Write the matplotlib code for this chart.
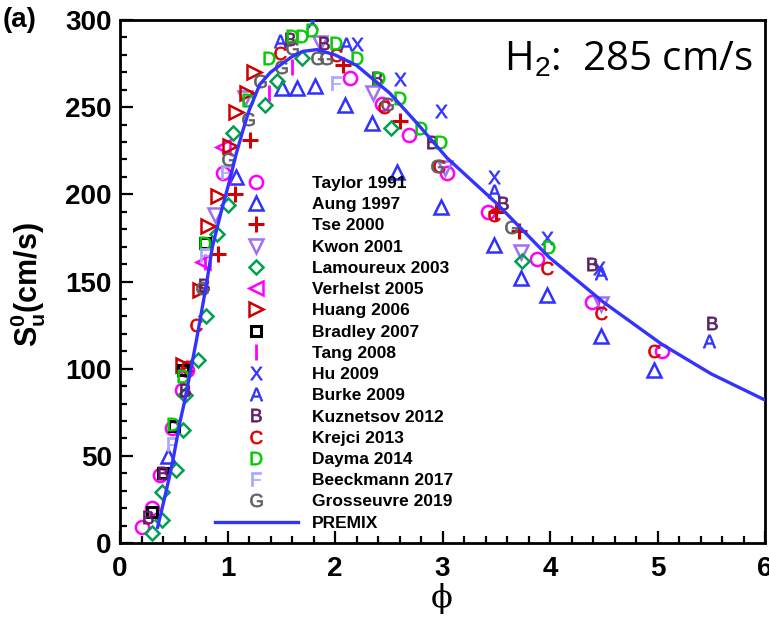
import matplotlib
matplotlib.use("Agg")
import matplotlib.pyplot as plt
from matplotlib.ticker import MultipleLocator

plt.rcParams['font.family'] = ['Liberation Sans', 'DejaVu Sans']
plt.rcParams['mathtext.fontset'] = 'custom'
plt.rcParams['mathtext.rm'] = 'Liberation Sans'
plt.rcParams['mathtext.sf'] = 'Liberation Sans'
plt.rcParams['mathtext.it'] = 'Liberation Sans:italic'
plt.rcParams['mathtext.bf'] = 'Liberation Sans:bold'

# ---------------- data (phi, S_u^0 in cm/s) ----------------
taylor_phi = [0.2, 0.3, 0.37, 0.48, 0.58, 0.62, 0.96, 2.14, 2.44, 2.69, 3.04, 3.42, 3.88, 4.39, 5.04]
taylor_s = [9, 20, 39, 66, 88, 99, 212, 267, 252, 234, 212, 190, 163, 138, 110]

aung_phi = [0.45, 1.08, 1.51, 1.65, 1.81, 2.09, 2.34, 2.58, 2.99, 3.48, 3.73, 3.97, 4.47, 4.97]
aung_s = [50, 210, 261, 261, 262, 251, 241, 213, 193, 171, 152, 142, 119, 99]

tse_phi = [0.91, 1.07, 1.21, 2.07, 2.6, 3.5, 3.71]
tse_s = [166, 200, 231, 274, 242, 190, 179]

kwon_phi = [0.88, 1.16, 1.86, 2.35, 3.02, 3.73, 4.47]
kwon_s = [188, 255, 287, 258, 215, 167, 137]

lam_phi = [0.30, 0.39, 0.39, 0.52, 0.59, 0.60, 0.73, 0.80, 0.90, 1.00, 1.05, 1.35, 1.46, 1.69, 2.52, 3.74]
lam_s = [6, 13, 29, 42, 65, 85, 105, 130, 177, 194, 235, 251, 265, 278, 238, 162]

verh_phi = [0.77, 0.96]
verh_s = [161, 227]

huang_phi = [0.59, 0.74, 0.82, 0.91, 1.02, 1.08, 1.18, 1.25]
huang_s = [102, 145, 182, 199, 228, 247, 258, 270]

bradley_phi = [0.30, 0.40, 0.50, 0.59, 0.79]
bradley_s = [18, 40, 67, 99, 172]

tang_phi = [0.79, 1.02, 1.39, 1.60]
tang_s = [161, 210, 258, 273]

hu_phi = [1.79, 2.20, 2.60, 2.99, 3.48, 3.97, 4.46]
hu_s = [299, 286, 266, 248, 210, 175, 158]

burke_phi = [1.49, 2.10, 3.48, 4.47, 5.48]
burke_s = [288, 286, 202, 155, 116]

kuz_phi = [0.26, 0.40, 0.60, 0.78, 1.58, 1.90, 2.39, 2.90, 3.56, 4.39, 5.51]
kuz_s = [15, 40, 88, 148, 289, 287, 267, 230, 195, 160, 126]

krejci_phi = [0.62, 0.71, 1.49, 2.01, 2.46, 2.97, 3.48, 3.97, 4.47, 4.97]
krejci_s = [101, 125, 281, 280, 250, 216, 188, 158, 132, 110]

dayma_phi = [0.49, 0.59, 0.79, 1.19, 1.39, 1.60, 1.69, 1.79, 2.01, 2.20, 2.41, 2.60, 2.80, 2.99, 3.99]
dayma_s = [68, 96, 172, 254, 278, 291, 291, 294, 287, 278, 267, 255, 238, 230, 170]

beeck_phi = [0.48, 0.79, 0.99, 2.01]
beeck_s = [57, 165, 213, 264]

gros_phi = [0.76, 1.00, 1.19, 1.30, 1.50, 1.60, 1.83, 1.92, 2.48, 2.95, 3.64]
gros_s = [146, 220, 243, 265, 273, 284, 278, 278, 252, 216, 181]

premix_phi = [0.35, 0.40, 0.46, 0.50, 0.56, 0.60, 0.66, 0.71, 0.80, 0.86, 0.90, 0.95, 1.02,
              1.08, 1.14, 1.20, 1.30, 1.40, 1.51, 1.60, 1.70, 1.83, 2.00, 2.20, 2.51, 2.76,
              3.04, 3.50, 3.99, 4.50, 5.04, 5.50, 6.00]
premix_s = [9, 22, 38, 50, 70, 81, 100, 116, 147, 170, 180, 192, 208,
            223, 236, 248, 263, 270, 275, 279, 282, 283, 280, 274, 258, 241,
            221, 195, 164, 138, 114, 97, 82]

xticks = [0, 1, 2, 3, 4, 5, 6]
yticks = [0, 50, 100, 150, 200, 250, 300]

# ---------------- figure ----------------
fig = plt.figure(figsize=(7.69, 6.18), dpi=100)
ax = fig.add_axes([120/769, 1-543/618, 645/769, 523/618])

ms = 9.5
mew = 1.8
series = [
    (taylor_phi, taylor_s, 'Taylor 1991', dict(marker='o', color='#ff00ff', mfc='none')),
    (aung_phi, aung_s, 'Aung 1997', dict(marker='^', color='#3030ff', mfc='none')),
    (tse_phi, tse_s, 'Tse 2000', dict(marker='+', color='#d00000', ms=11, mew=2.2)),
    (kwon_phi, kwon_s, 'Kwon 2001', dict(marker='v', color='#a070f0', mfc='none')),
    (lam_phi, lam_s, 'Lamoureux 2003', dict(marker='D', color='#00a050', mfc='none', ms=7.5)),
    (verh_phi, verh_s, 'Verhelst 2005', dict(marker='<', color='#ff00ff', mfc='none')),
    (huang_phi, huang_s, 'Huang 2006', dict(marker='>', color='#cc0000', mfc='none')),
    (bradley_phi, bradley_s, 'Bradley 2007', dict(marker='s', color='black', mfc='none', ms=7.5, mew=2.2)),
    (tang_phi, tang_s, 'Tang 2008', dict(marker='|', color='#ff00ff', ms=12, mew=2.0)),
    (hu_phi, hu_s, 'Hu 2009', dict(marker=r'$\mathsf{X}$', color='#3333ff', mew=0.5)),
    (burke_phi, burke_s, 'Burke 2009', dict(marker=r'$\mathsf{A}$', color='#3333ff', mew=0.5)),
    (kuz_phi, kuz_s, 'Kuznetsov 2012', dict(marker=r'$\mathsf{B}$', color='#602060', mew=0.5)),
    (krejci_phi, krejci_s, 'Krejci 2013', dict(marker=r'$\mathsf{C}$', color='#dd0000', mew=0.5)),
    (dayma_phi, dayma_s, 'Dayma 2014', dict(marker=r'$\mathsf{D}$', color='#00cc00', mew=0.5)),
    (beeck_phi, beeck_s, 'Beeckmann 2017', dict(marker=r'$\mathsf{F}$', color='#a8a8ff', mew=0.5)),
    (gros_phi, gros_s, 'Grosseuvre 2019', dict(marker=r'$\mathsf{G}$', color='#606060', mew=0.5)),
]

handles = []
for x, y, lab, st in series:
    kw = dict(ms=ms, mew=mew, ls='none')
    kw.update(st)
    h, = ax.plot(x, y, label=lab, zorder=3, **kw)
    handles.append(h)

line, = ax.plot(premix_phi, premix_s, color='#3333ff', lw=2.4, label='PREMIX', zorder=4)
handles.append(line)

ax.set_xlim(0, 6)
ax.set_ylim(0, 300)
ax.set_xticks(xticks)
ax.set_yticks(yticks)
ax.xaxis.set_minor_locator(MultipleLocator(0.2))
ax.yaxis.set_minor_locator(MultipleLocator(10))
ax.tick_params(which='both', direction='in', top=False, right=False, width=1.6)
ax.tick_params(which='major', length=9)
ax.tick_params(which='minor', length=5)
ax.tick_params(axis='x', pad=9)
ax.tick_params(axis='y', pad=6)
for lab in ax.get_xticklabels() + ax.get_yticklabels():
    lab.set_fontsize(20)
    lab.set_fontweight('bold')
for sp in ax.spines.values():
    sp.set_linewidth(2.0)

leg = ax.legend(handles=handles, loc='upper left', bbox_to_anchor=(0.147, 0.702),
                frameon=False, prop=dict(size=12.5, weight='bold'),
                handlelength=4.8, handletextpad=0.8, labelspacing=0.35,
                borderpad=0, borderaxespad=0, numpoints=1)

fig.text(28/769, 1-285/618, r'$\mathbf{S_u^0}$(cm/s)', rotation=90, ha='center', va='center',
         fontsize=22, fontweight='bold')
fig.text(442/769, 1-599/618, 'ϕ', ha='center', va='center', fontsize=23,
         family=['DejaVu Serif'])
fig.text(3/769, 1-20/618, '(a)', ha='left', va='center', fontsize=20, fontweight='bold')
fig.text(752/769, 1-60/618, r'H$_2$:  285 cm/s', ha='right', va='center', fontsize=29,
         family=['Open Sans', 'DejaVu Sans'])

fig.savefig('out.png', dpi=100)
